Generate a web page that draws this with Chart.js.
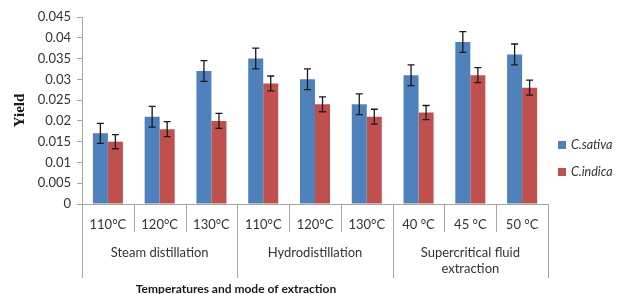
<!DOCTYPE html>
<html>
<head>
<meta charset="utf-8">
<script src="https://cdn.jsdelivr.net/npm/chart.js@4"></script>
<style>
  html, body { margin: 0; padding: 0; background: #fff; }
  #wrap { width: 620px; height: 294px; position: relative; }
</style>
</head>
<body>
<div id="wrap"><canvas id="data_chart"></canvas></div>
<script>
// temperatures (first row of x labels) and extraction modes (second row)
var temps = ['110°C', '120°C', '130°C', '110°C', '120°C', '130°C', '40 °C', '45 °C', '50 °C'];
var modes = [['Steam distillation'], ['Hydrodistillation'], ['Supercritical fluid', 'extraction']];
var modeSpan = 3;

var sativa = [0.017, 0.021, 0.032, 0.035, 0.030, 0.024, 0.031, 0.039, 0.036];
var sativaErr = [0.0024, 0.0025, 0.0025, 0.0025, 0.0025, 0.0025, 0.0025, 0.0025, 0.0025];
var indica = [0.015, 0.018, 0.020, 0.029, 0.024, 0.021, 0.022, 0.031, 0.028];
var indicaErr = [0.0017, 0.0018, 0.0018, 0.0018, 0.0018, 0.0018, 0.0017, 0.0018, 0.0018];

var BLUE = '#4f81bd';
var RED = '#c0504d';
var TXT = '#333333';
var LINE = '#a6a6a6';

// whiskers drawn through the y scale
var errorBars = {
    id: 'errorBars',
    afterDatasetsDraw(chart) {
        var ctx = chart.ctx, y = chart.scales.y;
        ctx.save();
        ctx.strokeStyle = '#1a1a1a';
        ctx.lineWidth = 1.3;
        chart.data.datasets.forEach((ds, di) => {
            chart.getDatasetMeta(di).data.forEach((bar, i) => {
                var v = ds.data[i], e = ds.errors[i];
                var top = y.getPixelForValue(v + e), bot = y.getPixelForValue(v - e);
                ctx.beginPath();
                ctx.moveTo(bar.x, top); ctx.lineTo(bar.x, bot);
                ctx.moveTo(bar.x - 3.5, top); ctx.lineTo(bar.x + 3.5, top);
                ctx.moveTo(bar.x - 3.5, bot); ctx.lineTo(bar.x + 3.5, bot);
                ctx.stroke();
            });
        });
        ctx.restore();
    }
};

// two-row category axis, legend and axis title
var groupedAxis = {
    id: 'groupedAxis',
    afterDraw(chart) {
        var ctx = chart.ctx, x = chart.scales.x, area = chart.chartArea;
        var n = temps.length;
        var step = (area.right - area.left) / n;
        var base = area.bottom;
        ctx.save();
        ctx.strokeStyle = LINE;
        ctx.lineWidth = 1;
        // separators
        for (var i = 0; i <= n; i++) {
            var px = Math.round(area.left + i * step) + 0.5;
            var deep = (i % modeSpan === 0);
            ctx.beginPath();
            ctx.moveTo(px, base);
            ctx.lineTo(px, deep ? base + 74 : base + 28);
            ctx.stroke();
        }
        ctx.fillStyle = TXT;
        ctx.textAlign = 'center';
        ctx.textBaseline = 'middle';
        ctx.font = '13px Lato';
        temps.forEach((t, i) => {
            ctx.fillText(t, x.getPixelForTick(i), base + 21);
        });
        modes.forEach((m, g) => {
            var cx = area.left + (g * modeSpan + modeSpan / 2) * step;
            m.forEach((line, k) => ctx.fillText(line, cx, base + 49 + k * 16));
        });
        ctx.font = 'bold 12px Lato';
        ctx.fillStyle = '#1a1a1a';
        ctx.fillText('Temperatures and mode of extraction', 236, base + 85);

        // legend
        ctx.textAlign = 'left';
        ctx.font = 'italic 12.5px Lato';
        chart.data.datasets.forEach((ds, di) => {
            var ly = 145 + di * 27;
            ctx.fillStyle = ds.backgroundColor;
            ctx.fillRect(558, ly - 4, 8, 8);
            ctx.fillStyle = TXT;
            ctx.fillText(ds.label, 571, ly);
        });
        ctx.restore();
    }
};

var chart = new Chart('data_chart', {
    type: 'bar',
    data: {
        labels: temps,
        datasets: [{
            label: 'C.sativa',
            data: sativa,
            errors: sativaErr,
            backgroundColor: BLUE,
            categoryPercentage: 0.58,
            barPercentage: 1
        }, {
            label: 'C.indica',
            data: indica,
            errors: indicaErr,
            backgroundColor: RED,
            categoryPercentage: 0.58,
            barPercentage: 1
        }]
    },
    options: {
        responsive: true,
        maintainAspectRatio: false,
        animation: { duration: 0 },
        layout: { padding: { top: 17, right: 72, left: 0, bottom: 0 } },
        plugins: { legend: { display: false }, tooltip: { enabled: false } },
        scales: {
            x: {
                grid: { display: false },
                border: { color: LINE },
                ticks: { display: false },
                afterFit(s) { s.height = 90; }
            },
            y: {
                min: 0,
                max: 0.045,
                grid: { drawOnChartArea: false, tickLength: 5, color: LINE },
                border: { color: LINE },
                ticks: {
                    stepSize: 0.005,
                    padding: 6,
                    color: TXT,
                    font: { family: 'Lato', size: 13 },
                    callback: v => String(Number(v.toFixed(3)))
                },
                title: {
                    display: true,
                    text: 'Yield',
                    color: '#1a1a1a',
                    font: { family: 'Liberation Serif', size: 15, weight: 'bold' },
                    padding: { top: 11, bottom: 0 }
                },
                afterFit(s) { s.width = 82; }
            }
        }
    },
    plugins: [errorBars, groupedAxis]
});
</script>
</body>
</html>
